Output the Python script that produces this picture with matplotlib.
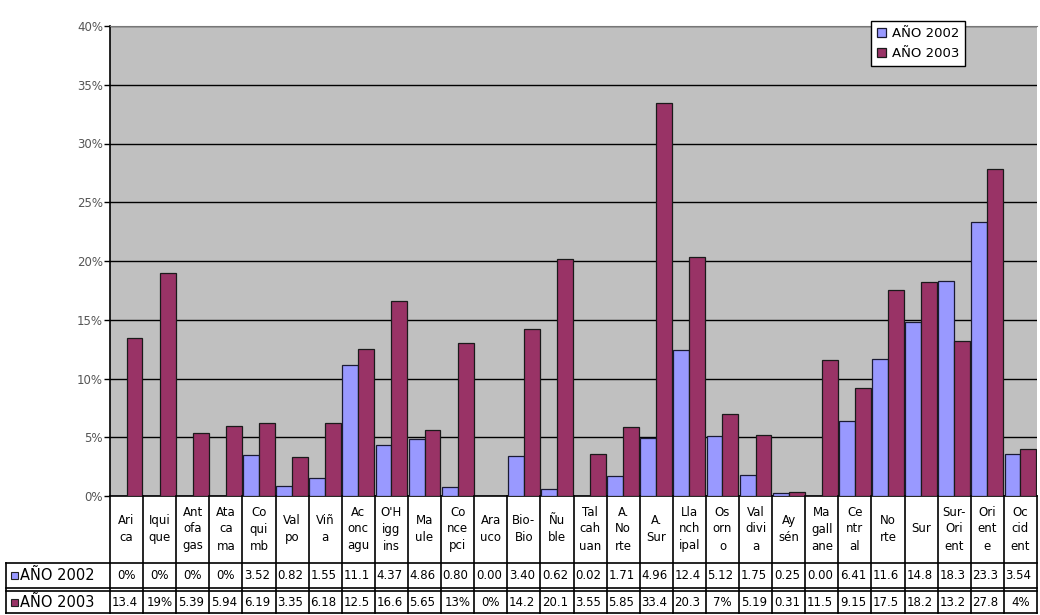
import numpy as np
import matplotlib.pyplot as plt
from matplotlib import transforms
from matplotlib.lines import Line2D
from matplotlib.patches import Rectangle
from matplotlib.ticker import FuncFormatter, MultipleLocator

# etiquetas tal como se ven en la tabla de datos (cortadas por el ancho de la celda)
etiquetas = ["Ari\nca", "Iqui\nque", "Ant\nofa\ngas", "Ata\nca\nma", "Co\nqui\nmb",
             "Val\npo", "Viñ\na", "Ac\nonc\nagu", "O'H\nigg\nins", "Ma\nule",
             "Co\nnce\npci", "Ara\nuco", "Bio-\nBio", "Ñu\nble", "Tal\ncah\nuan",
             "A.\nNo\nrte", "A.\nSur", "Lla\nnch\nipal", "Os\norn\no", "Val\ndivi\na",
             "Ay\nsén", "Ma\ngall\nane", "Ce\nntr\nal", "No\nrte", "Sur",
             "Sur-\nOri\nent", "Ori\nent\ne", "Oc\ncid\nent"]

# porcentajes por año
anio_2002 = [0, 0, 0, 0, 3.52, 0.82, 1.55, 11.14, 4.37, 4.86,
             0.80, 0.003, 3.40, 0.62, 0.02, 1.71, 4.96, 12.45, 5.12, 1.75,
             0.25, 0.006, 6.41, 11.62, 14.85, 18.32, 23.35, 3.54]
anio_2003 = [13.45, 19, 5.39, 5.94, 6.19, 3.35, 6.18, 12.55, 16.6, 5.65,
             13, 0, 14.23, 20.15, 3.55, 5.85, 33.45, 20.3, 7, 5.19,
             0.31, 11.59, 9.15, 17.55, 18.2, 13.2, 27.85, 4]

series = ["AÑO 2002", "AÑO 2003"]
colores = ["#9999FF", "#993366"]

W, H = 1040, 615
fig = plt.figure(figsize=(W / 100, H / 100), dpi=100)
plt.rcParams['font.family'] = ['DejaVu Sans']


def fx(px):
    return px / W


def fy(py):
    return 1 - py / H


ax = fig.add_axes([fx(110), fy(496), fx(1037) - fx(110), fy(26) - fy(496)])
ax.set_facecolor('#C0C0C0')

x = np.arange(len(etiquetas))
ancho = 0.48
ax.bar(x - ancho / 2, anio_2002, ancho, color=colores[0], edgecolor='#1a1a33',
       linewidth=0.9, label=series[0], zorder=3)
ax.bar(x + ancho / 2, anio_2003, ancho, color=colores[1], edgecolor='#1a1a1a',
       linewidth=0.9, label=series[1], zorder=3)

ax.set_xlim(-0.5, len(etiquetas) - 0.5)
ax.set_ylim(0, 40)
ax.yaxis.set_major_locator(MultipleLocator(5))
ax.yaxis.set_major_formatter(FuncFormatter(lambda v, p: f"{v:.0f}%"))
ax.grid(axis='y', color='black', linewidth=1.0)
ax.set_axisbelow(True)
ax.set_xticks([])
ax.tick_params(axis='y', length=4, width=1, labelsize=8.5, labelcolor='#555555', pad=1)
ax.spines['right'].set_visible(False)
ax.spines['top'].set_color('#777777')
ax.spines['left'].set_linewidth(1.2)
ax.spines['bottom'].set_linewidth(1.2)

ax.legend(loc='upper right', bbox_to_anchor=(fx(965), fy(21)), bbox_transform=fig.transFigure,
          fontsize=9.5, frameon=True, fancybox=False, edgecolor='black', framealpha=1,
          handlelength=0.7, handleheight=0.7, handletextpad=0.4, borderpad=0.45,
          labelspacing=0.55, borderaxespad=0)

# tabla de datos bajo el eje
tr = transforms.blended_transform_factory(ax.transData, fig.transFigure)
y_ini, y_lab, y_f1, y_f1b, y_fin = 496, 563, 588, 591, 613

for borde in np.arange(len(etiquetas) + 1) - 0.5:
    fig.add_artist(Line2D([borde, borde], [fy(y_ini), fy(y_fin)], transform=tr,
                          color='black', linewidth=1.2))
for yy in (y_lab, y_f1, y_f1b, y_fin):
    fig.add_artist(Line2D([fx(6), fx(1037)], [fy(yy), fy(yy)], transform=fig.transFigure,
                          color='black', linewidth=1.2))
fig.add_artist(Line2D([fx(6), fx(6)], [fy(y_lab), fy(y_fin)], transform=fig.transFigure,
                      color='black', linewidth=1.2))

for i, etq in enumerate(etiquetas):
    fig.text(i, fy(529), etq, transform=tr, ha='center', va='center',
             fontsize=8.5, linespacing=1.4)


def texto_celda(v):
    # la celda solo deja ver unos cuatro caracteres
    if v == int(v):
        return f"{int(v)}%"
    return f"{v:.3f}%"[:4]


filas = [(anio_2002, (y_lab + y_f1) / 2), (anio_2003, (y_f1b + y_fin) / 2)]
for (valores, yc), nombre, color in zip(filas, series, colores):
    fig.add_artist(Rectangle((fx(11), fy(yc + 3.5)), fx(7), fy(0) - fy(7),
                             transform=fig.transFigure, facecolor=color,
                             edgecolor='#222222', linewidth=0.8))
    fig.text(fx(20), fy(yc), nombre, ha='left', va='center', fontsize=10.5)
    for i, v in enumerate(valores):
        s = texto_celda(v)
        if len(s) <= 3:
            fig.text(i, fy(yc), s, transform=tr, ha='center', va='center', fontsize=8.5)
        else:
            fig.text(i - 0.45, fy(yc), s, transform=tr, ha='left', va='center', fontsize=8.5)

fig.savefig('out.png', dpi=100)
